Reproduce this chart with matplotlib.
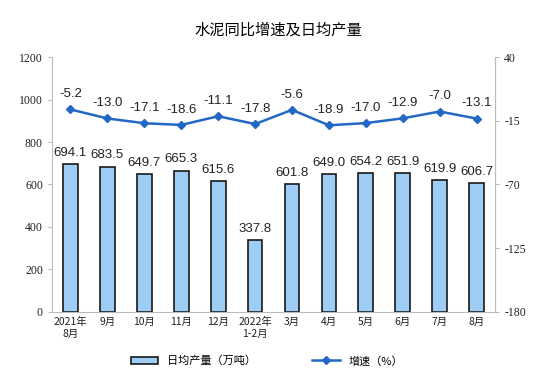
import matplotlib
matplotlib.use("Agg")
import matplotlib.pyplot as plt

categories = ["2021年\n8月", "9月", "10月", "11月", "12月", "2022年\n1-2月", "3月", "4月", "5月", "6月", "7月", "8月"]
output = [694.1, 683.5, 649.7, 665.3, 615.6, 337.8, 601.8, 649.0, 654.2, 651.9, 619.9, 606.7]
growth = [-5.2, -13.0, -17.1, -18.6, -11.1, -17.8, -5.6, -18.9, -17.0, -12.9, -7.0, -13.1]
left_ticks = [0, 200, 400, 600, 800, 1000, 1200]
right_ticks = [40, -15, -70, -125, -180]

cjk = ["Noto Sans CJK SC", "DejaVu Sans"]
serif = ["Liberation Serif", "Noto Sans CJK SC"]
sans = ["Liberation Sans", "DejaVu Sans"]

fig = plt.figure(figsize=(5.56, 3.78), dpi=100)
ax = fig.add_axes([0.0935, 0.175, 0.797, 0.674])
x = list(range(len(categories)))
bars = ax.bar(x, output, width=0.4, color="#9dcdf5", edgecolor="#1a1a1a", linewidth=1.2,
              label="日均产量（万吨）", zorder=2)
for xi, v in zip(x, output):
    ax.text(xi, v + 25, f"{v:.1f}", ha="center", va="bottom", fontsize=9.5, family=sans, color="#222222")
ax.set_xlim(-0.5, len(categories) - 0.5)
ax.set_ylim(0, 1200)
ax.set_yticks(left_ticks)
ax.set_yticklabels([str(t) for t in left_ticks], family=serif, fontsize=8.5)
ax.set_xticks(x)
ax.set_xticklabels(categories, family=cjk, fontsize=7.5)
ax.spines["top"].set_visible(False)
for s in ["left", "bottom", "right"]:
    ax.spines[s].set_color("#bbbbbb")
ax.tick_params(axis="both", colors="#bbbbbb", length=3, labelcolor="#222222")
ax.tick_params(axis="x", length=0, pad=4)

ax2 = ax.twinx()
ax2.set_ylim(-180, 40)
ax2.set_yticks(right_ticks)
ax2.set_yticklabels([str(t) for t in right_ticks], family=serif, fontsize=8.5)
line, = ax2.plot(x, growth, color="#2368c4", linewidth=1.8, marker="D", markersize=4,
                 label="增速（%）", zorder=3)
for xi, v in zip(x, growth):
    ax2.text(xi, v + 8, f"{v:.1f}", ha="center", va="bottom", fontsize=9.5, family=sans, color="#222222")
for s in ["top", "left", "bottom"]:
    ax2.spines[s].set_visible(False)
ax2.spines["right"].set_color("#bbbbbb")
ax2.tick_params(axis="y", colors="#bbbbbb", length=3, labelcolor="#222222")

fig.text(0.5, 0.92, "水泥同比增速及日均产量", ha="center", va="center", fontsize=11, family=cjk)
fig.legend([bars, line], ["日均产量（万吨）", "增速（%）"], loc="center", bbox_to_anchor=(0.48, 0.045),
           ncol=2, frameon=False, prop={"family": cjk, "size": 8}, columnspacing=5, handlelength=2.5)

fig.savefig("out.png", dpi=100)
